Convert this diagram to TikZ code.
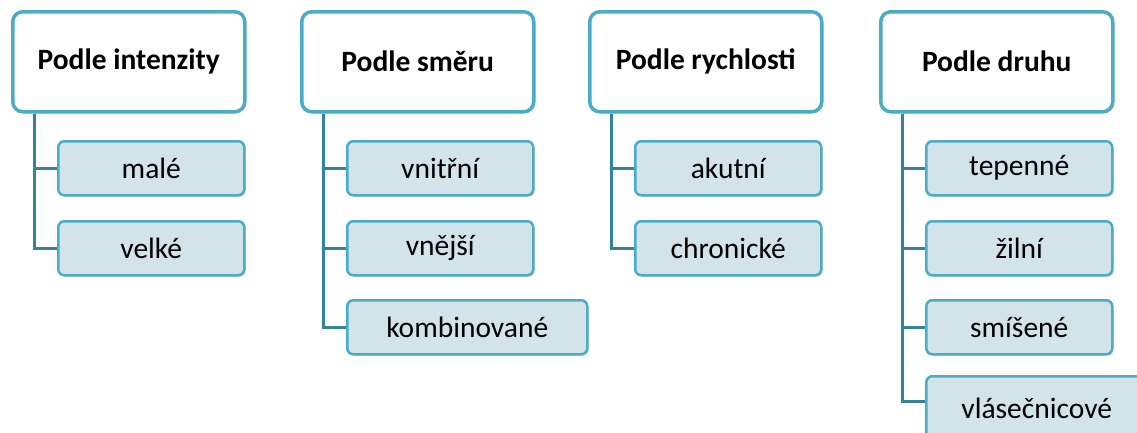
\documentclass[tikz,border=0pt]{standalone}
\usepackage{fontspec}
\setmainfont{Carlito}
\usetikzlibrary{shadows}
\definecolor{bord}{RGB}{75,172,198}
\definecolor{conn}{RGB}{49,132,155}
\definecolor{cfill}{RGB}{211,227,234}
\tikzset{
  head/.style={draw=bord, line width=3.5pt, fill=white, rounded corners=10pt, minimum width=232pt, minimum height=100pt, anchor=north west, inner sep=0pt, font=\fontsize{29.5}{34}\selectfont\bfseries, drop shadow={shadow xshift=1.5pt, shadow yshift=-1.5pt, opacity=0.25}},
  leaf/.style={draw=bord, line width=2.5pt, fill=cfill, rounded corners=6pt, minimum height=54pt, anchor=north west, inner sep=0pt, font=\fontsize{29.5}{34}\selectfont, drop shadow={shadow xshift=1.5pt, shadow yshift=-1.5pt, opacity=0.25}},
  link/.style={draw=conn, line width=3pt}
}
\begin{document}
\begin{tikzpicture}[x=1pt,y=-1pt]
\useasboundingbox (0,0) rectangle (1137,432);
\clip (0,0) rectangle (1137,432);
% column 1
\node[head] (h1) at (11,10) {Podle intenzity};
\node[leaf, minimum width=186pt] (a1) at (57,140) {malé};
\node[leaf, minimum width=186pt] (a2) at (57,220) {velké};
% column 2
\node[head] (h2) at (300,10) {Podle směru};
\node[leaf, minimum width=186pt] (b1) at (346,140) {vnitřní};
\node[leaf, minimum width=186pt] (b2) at (346,220) {vnější};
\node[leaf, minimum width=240pt] (b3) at (346,299) {kombinované};
% column 3
\node[head] (h3) at (588,10) {Podle rychlosti};
\node[leaf, minimum width=186pt] (c1) at (634,140) {akutní};
\node[leaf, minimum width=186pt] (c2) at (634,220) {chronické};
% column 4
\node[head] (h4) at (879,10) {Podle druhu};
\node[leaf, minimum width=186pt] (d1) at (925,140) {tepenné};
\node[leaf, minimum width=186pt] (d2) at (925,220) {žilní};
\node[leaf, minimum width=186pt] (d3) at (925,299) {smíšené};
\node[leaf, minimum width=240pt, minimum height=70pt] (d4) at (925,375) {\raisebox{7pt}{vlásečnicové}\hspace*{19pt}};
% connectors
\draw[link] ([xshift=23pt]h1.south west) |- (a1.west);
\draw[link] ([xshift=23pt]h1.south west) |- (a2.west);
\draw[link] ([xshift=23pt]h2.south west) |- (b1.west);
\draw[link] ([xshift=23pt]h2.south west) |- (b2.west);
\draw[link] ([xshift=23pt]h2.south west) |- (b3.west);
\draw[link] ([xshift=23pt]h3.south west) |- (c1.west);
\draw[link] ([xshift=23pt]h3.south west) |- (c2.west);
\draw[link] ([xshift=23pt]h4.south west) |- (d1.west);
\draw[link] ([xshift=23pt]h4.south west) |- (d2.west);
\draw[link] ([xshift=23pt]h4.south west) |- (d3.west);
\draw[link] ([xshift=23pt]h4.south west) |- ([yshift=-26pt]d4.north west);
\end{tikzpicture}
\end{document}
